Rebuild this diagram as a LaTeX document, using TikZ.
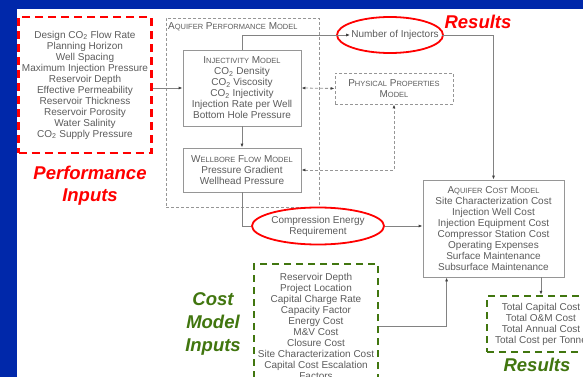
\documentclass[tikz,border=0pt]{standalone}
\usepackage{fontspec}
\setmainfont{Liberation Sans}
\usepackage{tikz}
\usetikzlibrary{arrows.meta}
\usetikzlibrary{shapes.geometric}
\definecolor{slideblue}{RGB}{0,40,170}
\definecolor{boxgray}{RGB}{150,150,150}
\definecolor{linegray}{RGB}{130,130,130}
\definecolor{textgray}{RGB}{92,92,92}
\definecolor{inred}{RGB}{255,0,0}
\definecolor{ingreen}{RGB}{65,118,15}
\newcommand{\cotwo}{CO\textsubscript{2}}
\newcommand{\fsc}[1]{{\fontsize{7.5}{11}\selectfont #1}}
\tikzset{
  every node/.style={font=\fontsize{10}{11}\selectfont, text=textgray, align=center},
  >={Latex[length=4pt,width=3pt,color=black!75]},
  modelbox/.style={draw=boxgray, line width=0.8pt, minimum width=118pt, inner sep=2pt},
  propbox/.style={draw=boxgray, line width=0.8pt, dash pattern=on 3pt off 2pt},
  redinput/.style={draw=inred, line width=2.5pt, dash pattern=on 8pt off 5pt},
  greeninput/.style={draw=ingreen, line width=2.3pt, dash pattern=on 7pt off 5pt},
  redring/.style={draw=inred, line width=1.8pt},
  redtitle/.style={font=\fontsize{18.5}{22}\selectfont\bfseries\itshape, text=inred},
  greentitle/.style={font=\fontsize{18.5}{23}\selectfont\bfseries\itshape, text=ingreen},
  conn/.style={draw=linegray, line width=0.8pt, ->},
  dashconn/.style={draw=boxgray, line width=0.8pt, dash pattern=on 3pt off 2pt, <->}
}
\begin{document}
\begin{tikzpicture}[x=1pt,y=-1pt]
  % slide background
  \useasboundingbox (0,0) rectangle (583,377);
  \clip (0,0) rectangle (583,377);
  \fill[slideblue] (0,0) rectangle (583,377);
  \fill[white] (17,9) rectangle (583,377);

  % performance side
  \node[redinput, minimum width=126pt, minimum height=136pt] (perfin) at (85,85)
    {Design \cotwo{} Flow Rate\\Planning Horizon\\Well Spacing\\Maximum Injection Pressure\\Reservoir Depth\\Effective Permeability\\Reservoir Thickness\\Reservoir Porosity\\Water Salinity\\\cotwo{} Supply Pressure};
  \node[redtitle] (perftitle) at (90,186) {Performance\\Inputs};
  \node[propbox, minimum width=153pt, minimum height=189pt] (perfm) at (242.5,112.5) {};
  \node[anchor=north west, inner sep=0pt] (perfname) at (168,22) {A\fsc{QUIFER} P\fsc{ERFORMANCE} M\fsc{ODEL}};
  \node[modelbox, minimum height=76pt] (injm) at (242,88)
    {I\fsc{NJECTIVITY} M\fsc{ODEL}\\\cotwo{} Density\\\cotwo{} Viscosity\\\cotwo{} Injectivity\\Injection Rate per Well\\Bottom Hole Pressure};
  \node[modelbox, minimum height=44pt] (wellm) at (242,170)
    {W\fsc{ELLBORE} F\fsc{LOW} M\fsc{ODEL}\\Pressure Gradient\\Wellhead Pressure};
  \node[propbox, minimum width=118pt, minimum height=31pt] (physm) at (394,88.5)
    {P\fsc{HYSICAL} P\fsc{ROPERTIES}\\M\fsc{ODEL}};

  % results
  \node[inner sep=1pt] (noinj) at (395,35) {Number of Injectors};
  \draw[redring] ([xshift=-5pt]noinj.center) ellipse [x radius=53pt, y radius=18pt];
  \node[redtitle] (restop) at (478,22) {Results};

  % cost side
  \node[modelbox, minimum width=141pt, minimum height=97pt] (costm) at (493.5,228.5)
    {A\fsc{QUIFER} C\fsc{OST} M\fsc{ODEL}\\Site Characterization Cost\\Injection Well Cost\\Injection Equipment Cost\\Compressor Station Cost\\Operating Expenses\\Surface Maintenance\\Subsurface Maintenance};
  \node[redring, ellipse, minimum width=110pt, minimum height=37pt, inner sep=0pt] (comp) at (318,226)
    {Compression Energy\\Requirement};
  \node[greeninput, minimum width=124pt, minimum height=125pt, anchor=north] (costin) at (316,263)
    {Reservoir Depth\\Project Location\\Capital Charge Rate\\Capacity Factor\\Energy Cost\\M\&V Cost\\Closure Cost\\Site Characterization Cost\\Capital Cost Escalation\\Factors};
  \node[greentitle] (costtitle) at (213,324) {Cost\\Model\\Inputs};
  \node[greeninput, minimum width=108pt, minimum height=56pt] (totals) at (541,324)
    {Total Capital Cost\\Total O\&M Cost\\Total Annual Cost\\Total Cost per Tonne};
  \node[greentitle] (resbot) at (537,365) {Results};

  % connectors
  \draw[conn] (perfin.east |- injm.west) -- (injm.west);
  \draw[conn] (injm.south) -- (wellm.north);
  \draw[conn] (injm.north) |- (noinj.west);
  \draw[conn] ([xshift=2pt]noinj.east) -| (costm.north);
  \draw[dashconn] (injm.east) -- (physm.west);
  \draw[dashconn] (wellm.east) -| (physm.south);
  \draw[draw=linegray, line width=0.8pt] (wellm.south) |- (comp.west);
  \draw[conn] (comp.east) -- (comp.east -| costm.west);
  \draw[conn] (costin.east) -| ([xshift=24pt]costm.south west);
  \draw[conn] (costm.south -| totals.north) -- (totals.north);
\end{tikzpicture}
\end{document}
